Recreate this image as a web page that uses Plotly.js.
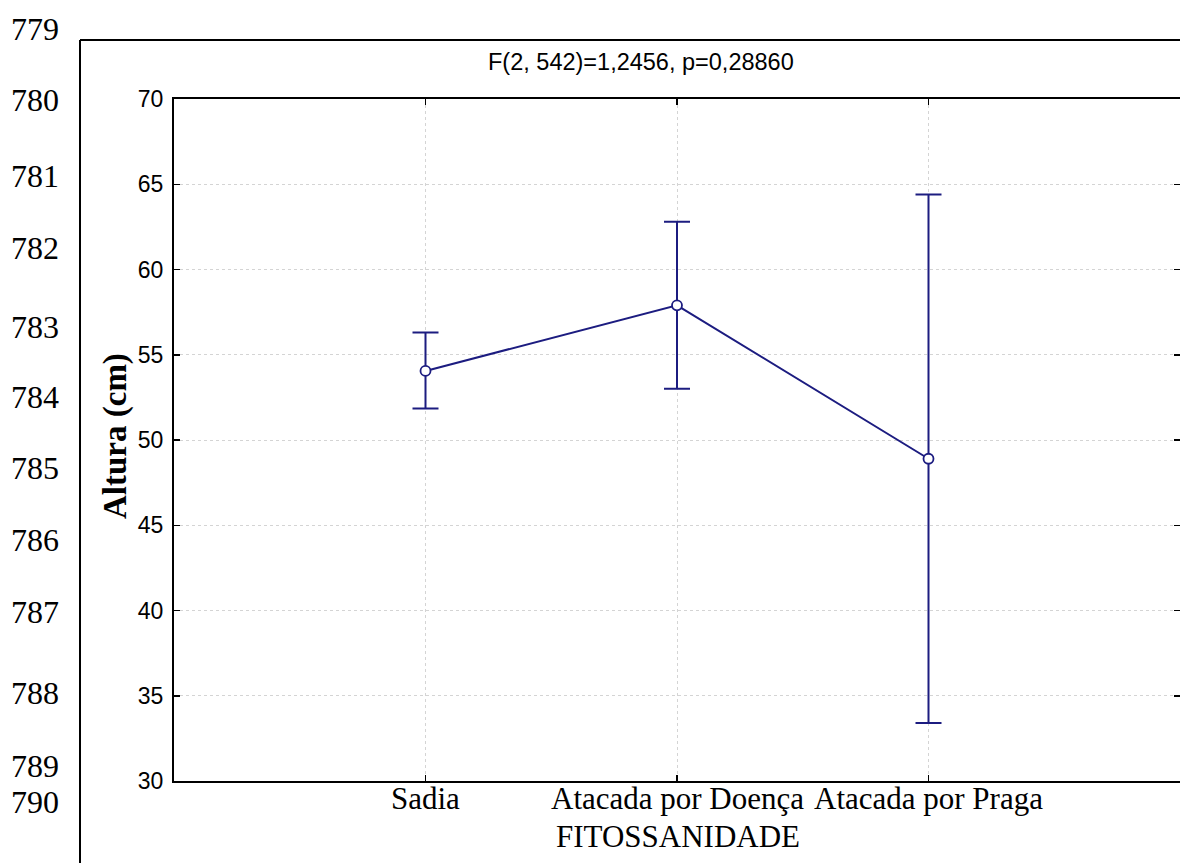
<!DOCTYPE html>
<html>
<head>
<meta charset="utf-8">
<script src="https://cdn.plot.ly/plotly-3.0.1.min.js"></script>
<style>html,body{margin:0;padding:0;background:#fff;}#chart{width:1180px;height:863px;}</style>
</head>
<body>
<div id="chart"></div>
<script>
// ---- data ----
const categories = ['Sadia', 'Atacada por Doença', 'Atacada por Praga'];
const means = [54.05, 57.9, 48.9];
const errPlus = [2.25, 4.9, 15.5];
const errMinus = [2.2, 4.9, 15.5];
const yTickValues = [30, 35, 40, 45, 50, 55, 60, 65, 70];
const lineNumbers = ['779', '780', '781', '782', '783', '784', '785', '786', '787', '788', '789', '790'];
const titleText = 'F(2, 542)=1,2456, p=0,28860';
const xTitle = 'FITOSSANIDADE';
const yTitle = 'Altura (cm)';

// ---- layout geometry (pixels) ----
const W = 1180, H = 863;
const L = 174, R = 0, T = 99, B = 82;
const plotW = W - L - R, plotH = H - T - B;
const px = x => (x - L) / plotW;
const py = y => (H - B - y) / plotH;
const lineNumY = [29, 100, 176, 248, 327, 397, 468, 540, 612, 693, 766, 802];

const serif = 'Liberation Serif, Times New Roman, serif';
const sans = 'Liberation Sans, Arial, sans-serif';
const navy = 'rgb(28,28,128)';

const xIdx = categories.map((c, i) => i);

const trace = {
  type: 'scatter',
  mode: 'lines+markers',
  x: xIdx,
  y: means,
  line: {color: navy, width: 2},
  marker: {symbol: 'circle', size: 10, color: '#ffffff', line: {color: navy, width: 1.8}},
  error_y: {type: 'data', symmetric: false, array: errPlus, arrayminus: errMinus,
            color: navy, thickness: 2, width: 13},
  hoverinfo: 'x+y',
  showlegend: false
};

// invisible trace to carry right-side mirrored ticks
const rightTrace = {type: 'scatter', mode: 'none', x: [xIdx[0]], y: [means[0]], yaxis: 'y2',
  hoverinfo: 'skip', showlegend: false};

const annotations = [];
lineNumbers.forEach((t, i) => {
  annotations.push({text: t, xref: 'paper', yref: 'paper', x: px(9), y: py(lineNumY[i]),
    xanchor: 'left', yanchor: 'middle', showarrow: false,
    font: {family: serif, size: 32, color: '#000'}});
});
categories.forEach((c, i) => {
  annotations.push({text: c, xref: 'x', yref: 'paper', x: xIdx[i], y: py(798),
    xanchor: 'center', yanchor: 'middle', showarrow: false,
    font: {family: serif, size: 31, color: '#000'}});
});
annotations.push({text: titleText, xref: 'paper', yref: 'paper', x: px(641), y: py(62),
  xanchor: 'center', yanchor: 'middle', showarrow: false,
  font: {family: sans, size: 23.5, color: '#000'}});
annotations.push({text: xTitle, xref: 'paper', yref: 'paper', x: px(678), y: py(836),
  xanchor: 'center', yanchor: 'middle', showarrow: false,
  font: {family: serif, size: 31, color: '#000'}});
annotations.push({text: '<b>' + yTitle + '</b>', xref: 'paper', yref: 'paper', x: px(115), y: py(436),
  xanchor: 'center', yanchor: 'middle', showarrow: false, textangle: -90,
  font: {family: serif, size: 33, color: '#000'}});

const shapes = [
  {type: 'line', xref: 'paper', yref: 'paper', x0: px(80), x1: px(1200), y0: py(40), y1: py(40),
   line: {color: '#000', width: 2}},
  {type: 'line', xref: 'paper', yref: 'paper', x0: px(80), x1: px(80), y0: py(40), y1: py(880),
   line: {color: '#000', width: 2}}
];

const gridStyle = {showgrid: true, gridcolor: '#d4d4d4', griddash: 'dot', gridwidth: 1};

const layout = {
  width: W, height: H,
  margin: {l: L, r: R, t: T, b: B, pad: 0},
  paper_bgcolor: '#fff', plot_bgcolor: '#fff',
  showlegend: false,
  xaxis: Object.assign({
    range: [-1, 3], tickvals: xIdx, ticktext: categories, showticklabels: false,
    zeroline: false, showline: true, linecolor: '#000', linewidth: 2, mirror: 'ticks',
    ticks: 'inside', ticklen: 6, tickwidth: 1.5, tickcolor: '#000'
  }, gridStyle),
  yaxis: Object.assign({
    range: [30, 70], tickvals: yTickValues, ticktext: yTickValues.map(String),
    zeroline: false, showline: true, linecolor: '#000', linewidth: 2, mirror: false,
    ticks: 'inside', ticklen: 6, tickwidth: 1.5, tickcolor: '#000',
    ticklabelstandoff: 4,
    tickfont: {family: sans, size: 23, color: '#000'}
  }, gridStyle),
  yaxis2: {
    overlaying: 'y', side: 'right', range: [30, 70], tickvals: yTickValues,
    showticklabels: false, showgrid: false, zeroline: false, showline: false,
    ticks: 'inside', ticklen: 6, tickwidth: 1.5, tickcolor: '#000'
  },
  annotations: annotations,
  shapes: shapes
};

Plotly.newPlot('chart', [trace, rightTrace], layout, {displayModeBar: false, staticPlot: true});
</script>
</body>
</html>
